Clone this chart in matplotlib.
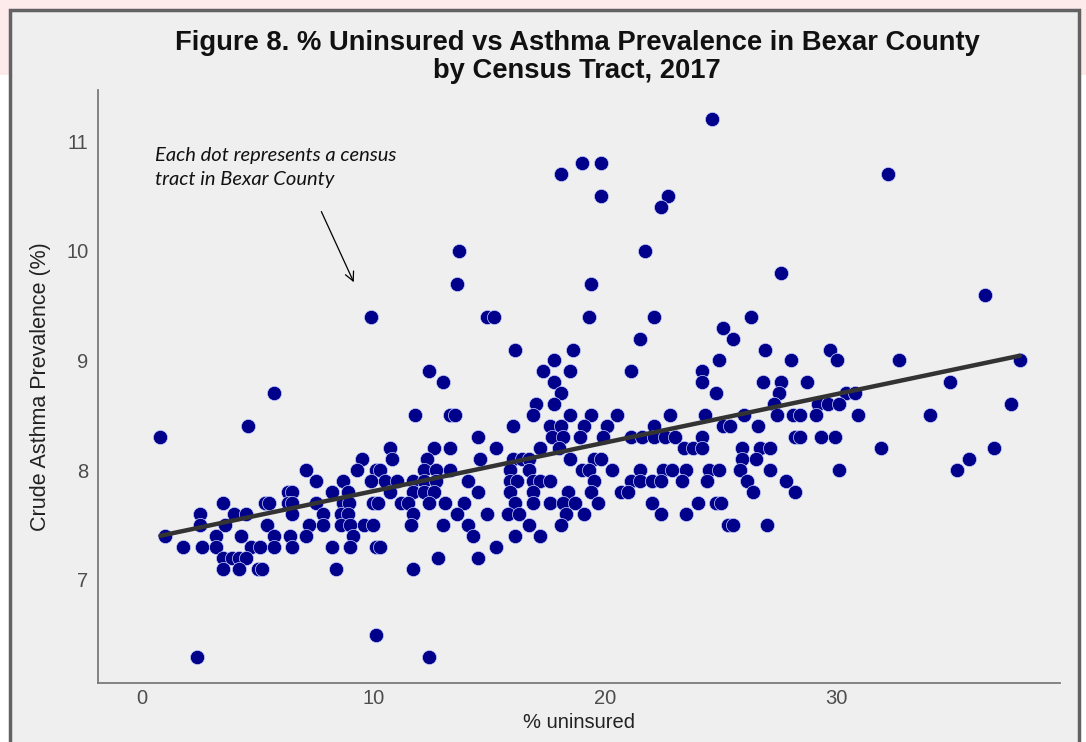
import numpy as np
import matplotlib
matplotlib.use("Agg")
import matplotlib.pyplot as plt
from matplotlib.patches import Rectangle

# ---- data: (asthma prevalence row) -> list of % uninsured values ----
rows = {
    11.2: [24.6],
    10.8: [19.0, 19.8],
    10.7: [18.1, 32.2],
    10.5: [19.8, 22.7],
    10.4: [22.4],
    10.0: [13.7, 21.7],
    9.8: [27.6],
    9.7: [13.6, 19.4],
    9.6: [36.4],
    9.4: [9.9, 14.9, 15.2, 19.3, 22.1, 26.3],
    9.3: [25.1],
    9.2: [21.5, 25.5],
    9.1: [16.1, 18.6, 26.9, 29.7],
    9.0: [17.8, 24.9, 28.0, 30.0, 32.7, 37.9],
    8.9: [12.4, 17.3, 18.5, 21.1, 24.2],
    8.8: [13.0, 17.8, 24.2, 26.8, 27.6, 28.7, 34.9],
    8.7: [5.7, 18.1, 24.8, 27.5, 30.4, 30.8],
    8.6: [17.0, 17.8, 27.3, 29.2, 29.6, 30.1, 37.5],
    8.5: [11.8, 13.3, 13.5, 16.9, 18.5, 19.4, 20.5, 22.8, 24.3, 26.0, 27.4,
          28.1, 28.4, 29.1, 30.9, 34.0],
    8.4: [4.6, 16.0, 17.6, 18.1, 19.1, 20.1, 22.1, 25.1, 25.4, 26.6],
    8.3: [0.8, 14.5, 17.7, 18.2, 18.9, 19.9, 21.1, 21.6, 22.1, 22.6, 23.0,
          24.2, 28.2, 28.4, 29.3, 29.9],
    8.2: [10.7, 12.6, 13.3, 15.3, 17.2, 18.0, 23.4, 23.8, 24.2, 25.9, 26.7,
          27.1, 31.9, 36.8],
    8.1: [9.5, 10.8, 12.3, 14.6, 16.0, 16.4, 16.7, 18.5, 19.5, 19.8, 25.9,
          26.5, 35.7],
    8.0: [7.1, 9.3, 10.1, 10.3, 12.2, 12.7, 13.3, 15.9, 16.7, 19.0, 19.3,
          20.3, 21.5, 22.5, 22.9, 23.5, 24.5, 24.9, 25.8, 27.1, 30.1, 35.2],
    7.9: [7.5, 8.7, 9.9, 10.5, 11.0, 11.7, 12.2, 12.7, 14.1, 15.9, 16.2,
          16.9, 17.2, 17.6, 19.5, 21.1, 21.5, 22.0, 22.4, 23.3, 24.4, 26.1,
          27.8],
    7.8: [6.3, 6.5, 8.2, 8.9, 10.7, 11.7, 12.2, 12.6, 14.5, 15.9, 16.9,
          18.4, 19.4, 20.7, 21.0, 26.4, 28.2],
    7.7: [3.5, 5.3, 5.5, 6.3, 6.5, 7.5, 8.7, 8.95, 10.0, 10.2, 11.2, 11.5,
          12.4, 13.1, 13.9, 16.1, 16.9, 17.6, 18.2, 18.7, 19.7, 22.0, 24.0,
          24.8, 25.0],
    7.6: [2.5, 4.0, 4.5, 6.5, 7.8, 8.6, 8.9, 11.7, 13.6, 14.9, 15.8, 16.3,
          18.3, 19.1, 22.4, 23.5],
    7.5: [2.5, 3.6, 5.4, 7.2, 7.8, 8.6, 9.0, 9.6, 10.0, 11.6, 13.0, 14.1,
          16.7, 18.1, 25.3, 25.5, 27.0],
    7.4: [1.0, 3.2, 4.3, 5.7, 6.4, 7.1, 9.1, 14.3, 16.1, 17.2],
    7.3: [1.8, 2.6, 3.2, 4.7, 5.1, 5.7, 6.5, 8.2, 9.0, 10.1, 10.3, 15.3],
    7.2: [3.5, 3.9, 4.2, 4.5, 12.8, 14.5],
    7.1: [3.5, 4.2, 5.0, 5.2, 8.4, 11.7],
    6.5: [10.1],
    6.3: [2.4, 12.4],
}

uninsured = np.array([x for yv, xs in rows.items() for x in xs])
asthma = np.array([yv for yv, xs in rows.items() for x in xs])

x_ticks = [0, 10, 20, 30]
y_ticks = [7, 8, 9, 10, 11]
title = "Figure 8. % Uninsured vs Asthma Prevalence in Bexar County\nby Census Tract, 2017"
note = "Each dot represents a census\ntract in Bexar County"

SANS = ["Liberation Sans", "DejaVu Sans"]

# ---- figure ----
W, H = 1086, 742
fig = plt.figure(figsize=(W / 100, H / 100), dpi=100)
fig.patch.set_facecolor("white")

# pink band at top, grey framed panel
fig.add_artist(Rectangle((0, 1 - 75 / H), 1, 75 / H, transform=fig.transFigure,
                         facecolor="#fdebec", edgecolor="none", zorder=0))
fig.add_artist(Rectangle((10 / W, -0.05), (1079 - 10) / W, (H + 37 - 10) / H,
                         transform=fig.transFigure, facecolor="#efefef",
                         edgecolor="#626262", linewidth=2.5, zorder=0.5))

ax = fig.add_axes([98 / W, 1 - 683 / H, (1060 - 98) / W, (683 - 90) / H])
ax.set_facecolor("none")
ax.set_zorder(2)

ax.scatter(uninsured, asthma, s=105, color="#00008b", edgecolors="#c9d2ff",
           linewidths=0.5, zorder=3)

coef = np.polyfit(uninsured, asthma, 1)
xs = np.linspace(uninsured.min(), uninsured.max(), 50)
ax.plot(xs, np.polyval(coef, xs), color="#333333", linewidth=3.2,
        solid_capstyle="round", zorder=4)

ax.set_xlim(-1.89, 39.63)
ax.set_ylim(6.061, 11.465)
ax.set_xticks(x_ticks)
ax.set_yticks(y_ticks)
ax.tick_params(axis="x", length=0, labelsize=14.5, labelcolor="#4d4d4d", pad=4.5)
ax.tick_params(axis="y", length=0, labelsize=14.5, labelcolor="#4d4d4d", pad=7)
for lab in ax.get_xticklabels() + ax.get_yticklabels():
    lab.set_family(SANS)
for s in ["top", "right"]:
    ax.spines[s].set_visible(False)
for s in ["left", "bottom"]:
    ax.spines[s].set_color("#7a7a7a")
    ax.spines[s].set_linewidth(1.3)

ax.set_xlabel("% uninsured", fontsize=14.5, color="#222222", family=SANS,
              labelpad=3.5)
ax.set_ylabel("Crude Asthma Prevalence (%)", fontsize=15.5, color="#222222",
              family=SANS, labelpad=11)

fig.text(577 / W, 1 - 57 / H, title, ha="center", va="center", fontsize=19.7,
         fontweight="bold", family=SANS, linespacing=1.13, color="#111111")

ax.annotate(note, xy=(9.3, 9.68), xytext=(0.55, 10.76), fontsize=14.5,
            style="italic", family=["Lato", "DejaVu Sans"], color="#111111",
            ha="left", va="center", linespacing=1.45)
ax.annotate("", xy=(9.2, 9.69), xytext=(7.7, 10.38),
            arrowprops=dict(arrowstyle="->", color="black", lw=0.9,
                            mutation_scale=16))

fig.savefig("out.png", dpi=100)
